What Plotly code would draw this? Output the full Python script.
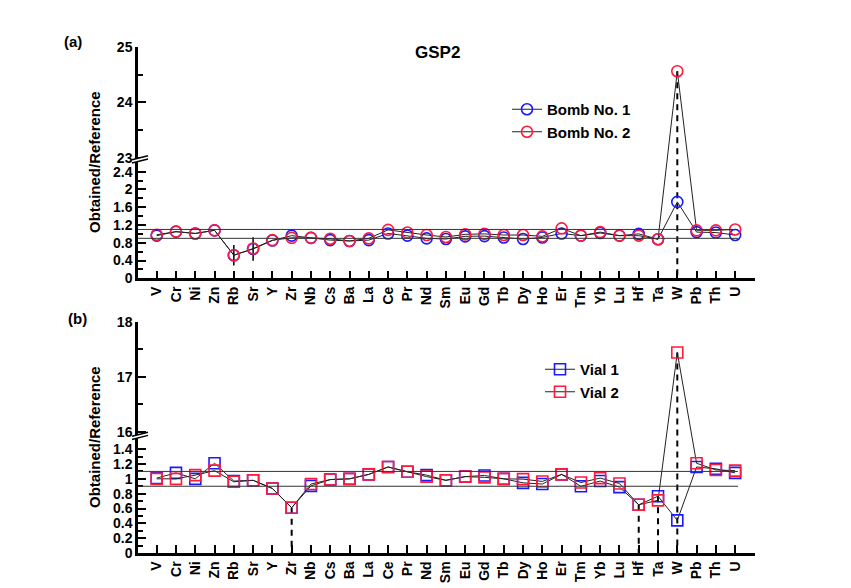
import plotly.graph_objects as go

# ---------------- data ----------------
elements = ["V", "Cr", "Ni", "Zn", "Rb", "Sr", "Y", "Zr", "Nb", "Cs", "Ba", "La", "Ce", "Pr",
            "Nd", "Sm", "Eu", "Gd", "Tb", "Dy", "Ho", "Er", "Tm", "Yb", "Lu", "Hf", "Ta", "W",
            "Pb", "Th", "U"]

bomb1 = [0.96, 1.05, 1.01, 1.08, 0.52, 0.66, 0.85, 0.96, 0.91, 0.86, 0.84, 0.86, 1.01, 0.96,
         0.90, 0.885, 0.945, 0.95, 0.92, 0.885, 0.92, 1.01, 0.96, 1.02, 0.96, 1.00, 0.88, 1.72,
         1.04, 1.03, 0.975]
bomb2 = [0.98, 1.05, 1.01, 1.08, 0.52, 0.67, 0.86, 0.91, 0.91, 0.89, 0.84, 0.90, 1.09, 1.03,
         0.975, 0.93, 0.99, 1.00, 0.975, 0.975, 0.945, 1.125, 0.96, 1.04, 0.96, 0.96, 0.88, 24.56,
         1.08, 1.08, 1.10]
bomb1_err = [0, 0, 0, 0, 0.23, 0.265, 0, 0, 0, 0, 0, 0, 0, 0, 0, 0, 0, 0, 0, 0, 0, 0, 0, 0, 0,
             0, 0, 0, 0, 0, 0]

vial1 = [1.01, 1.08, 1.00, 1.21, 0.97, 0.98, 0.87, 0.61, 0.905, 0.99, 1.00, 1.06, 1.16, 1.095,
         1.05, 0.98, 1.03, 1.045, 1.00, 0.946, 0.93, 1.06, 0.90, 0.97, 0.888, 0.65, 0.766, 0.44,
         1.16, 1.135, 1.08]
vial2 = [1.00, 1.00, 1.05, 1.11, 0.96, 0.98, 0.87, 0.61, 0.93, 0.99, 1.00, 1.06, 1.16, 1.095,
         1.03, 0.98, 1.03, 1.02, 1.00, 0.996, 0.965, 1.06, 0.95, 1.01, 0.937, 0.65, 0.71, 17.44,
         1.21, 1.12, 1.11]

drop_a = ["W"]
drop_b = ["Zr", "Hf", "Ta", "W"]
ref_lines = [0.9, 1.1]

# ---------------- broken-axis scales ----------------
# panel a: lower 0..2.6, upper 23..25
A = dict(low_top=2.6, up_bot=23.0, up_off=2.708, up_scale=1.2534, top=25.0)
# panel b: lower 0..1.5, upper 16..18
B = dict(low_top=1.5, up_bot=16.0, up_off=1.6336, up_scale=0.7425, top=18.0)


def tr(v, s):
    if v is None:
        return None
    if v <= s["low_top"]:
        return v
    return s["up_off"] + (v - s["up_bot"]) * s["up_scale"]


FONT = "Liberation Sans, Arial, sans-serif"
BLUE = "#1a1aff"
RED = "#ff1a3c"

# plot-area pixel frame
L, R, T, BOT = 138, 755, 46, 553
W_, H_ = R - L, BOT - T


def px(x):
    return (x - L) / W_


def py(y):
    return (BOT - y) / H_


fig = go.Figure()


def series(x, vals, s, name, color, symbol, xa, ya, legend, err=None):
    kw = {}
    if err is not None:
        kw["error_y"] = dict(type="data", array=err, visible=True, color="black",
                             thickness=1.5, width=0)
    fig.add_trace(go.Scatter(
        x=x, y=[tr(v, s) for v in vals], mode="lines+markers", name=name,
        line=dict(color="#222222", width=1),
        marker=dict(symbol=symbol, size=11, color=color, line=dict(width=1.6, color=color)),
        xaxis=xa, yaxis=ya, legend=legend, **kw))


def drops(names, v1, v2, s, xa, ya):
    xs, ys = [], []
    for n in names:
        i = elements.index(n)
        xs += [n, n, None]
        ys += [tr(max(v1[i], v2[i]), s), 0, None]
    fig.add_trace(go.Scatter(x=xs, y=ys, mode="lines", showlegend=False,
                             line=dict(color="black", width=2, dash="6px,5px"),
                             xaxis=xa, yaxis=ya, hoverinfo="skip"))


drops(drop_a, bomb1, bomb2, A, "x", "y")
drops(drop_b, vial1, vial2, B, "x2", "y2")

series(elements, bomb1, A, "Bomb No. 1", BLUE, "circle-open", "x", "y", "legend", bomb1_err)
series(elements, bomb2, A, "Bomb No. 2", RED, "circle-open", "x", "y", "legend")
series(elements, vial1, B, "Vial 1", BLUE, "square-open", "x2", "y2", "legend2")
series(elements, vial2, B, "Vial 2", RED, "square-open", "x2", "y2", "legend2")

shapes = []
for xr, yr in (("x", "y"), ("x2", "y2")):
    for r in ref_lines:
        shapes.append(dict(type="line", xref=xr, yref=yr, x0=-0.97, x1=30.15, y0=r, y1=r,
                           line=dict(color="#333333", width=1)))


def breakmark(s, yref, px_per_unit):
    c = (s["low_top"] + s["up_off"]) / 2.0
    d = 1.0 / px_per_unit
    x0, x1 = px(132), px(148)
    shapes.append(dict(type="path", xref="paper", yref=yref,
                       path=f"M {x0},{c - 2.6*d} L {x1},{c + 1.4*d} L {x1},{c + 4.6*d} "
                            f"L {x0},{c + 0.6*d} Z",
                       fillcolor="white", line=dict(width=0), layer="above"))
    shapes.append(dict(type="line", xref="paper", yref=yref, x0=x0, x1=x1,
                       y0=c - 2.6*d, y1=c + 1.4*d, line=dict(color="black", width=1.5)))
    shapes.append(dict(type="line", xref="paper", yref=yref, x0=x0, x1=x1,
                       y0=c + 0.6*d, y1=c + 4.6*d, line=dict(color="black", width=1.5)))


breakmark(A, "y", 44.42)
breakmark(B, "y2", 74.07)


def yticks(s, low_major, low_minor, up_major, up_minor, fmt):
    tv = [tr(v, s) for v in low_major] + [tr(v, s) for v in up_major]
    tt = [fmt(v) for v in low_major] + [fmt(v) for v in up_major]
    mv = [tr(v, s) for v in low_minor] + [tr(v, s) for v in up_minor]
    return tv, tt, mv


def f(v):
    return ("%g" % round(v, 2))


tva, tta, mva = yticks(A, [0, 0.4, 0.8, 1.2, 1.6, 2.0, 2.4], [0.2, 0.6, 1.0, 1.4, 1.8, 2.2],
                       [23, 24, 25], [23.5, 24.5], f)
tvb, ttb, mvb = yticks(B, [0, 0.2, 0.4, 0.6, 0.8, 1.0, 1.2, 1.4],
                       [0.1, 0.3, 0.5, 0.7, 0.9, 1.1, 1.3], [16, 17, 18], [16.5, 17.5], f)

tickfont = dict(family=FONT, size=14, color="black", weight="bold")

xcommon = dict(type="category", range=[-0.97, 31.03], showline=True, linecolor="black",
               linewidth=2.5, ticks="inside", ticklen=8, tickwidth=2, tickcolor="black",
               tickangle=-90, tickfont=tickfont, showgrid=False, zeroline=False,
               categoryorder="array", categoryarray=elements, automargin=False)
ycommon = dict(showline=True, linecolor="black", linewidth=2.5, ticks="inside", ticklen=8,
               tickwidth=2, tickcolor="black", tickfont=tickfont, showgrid=False,
               zeroline=False, tickmode="array", automargin=False)

ann_font = dict(family=FONT, size=15, weight="bold", color="black")

fig.update_layout(
    width=851, height=588,
    margin=dict(l=L, r=851 - R, t=T, b=588 - BOT),
    paper_bgcolor="white", plot_bgcolor="white",
    font=dict(family=FONT, color="black"),
    xaxis=dict(**xcommon, anchor="y"),
    xaxis2=dict(**xcommon, anchor="y2"),
    yaxis=dict(**ycommon, domain=[py(278.3), py(46.7)], range=[0, tr(A["top"], A)],
               tickvals=tva, ticktext=tta,
               minor=dict(tickmode="array", tickvals=mva, ticks="inside", ticklen=5,
                          tickwidth=2, tickcolor="black", showgrid=False)),
    yaxis2=dict(**ycommon, domain=[0, py(321.7)], range=[0, tr(B["top"], B)],
                tickvals=tvb, ticktext=ttb,
                minor=dict(tickmode="array", tickvals=mvb, ticks="inside", ticklen=5,
                           tickwidth=2, tickcolor="black", showgrid=False)),
    shapes=shapes,
    legend=dict(x=px(507), y=py(93), xanchor="left", yanchor="top", bgcolor="rgba(0,0,0,0)",
                font=dict(family=FONT, size=15, color="black", weight="bold"),
                tracegroupgap=0, itemwidth=30),
    legend2=dict(x=px(540), y=py(353), xanchor="left", yanchor="top",
                 bgcolor="rgba(0,0,0,0)",
                 font=dict(family=FONT, size=15, color="black", weight="bold"),
                 tracegroupgap=0, itemwidth=30),
    showlegend=True,
    annotations=[
        dict(text="GSP2", x=px(437), y=py(53), xref="paper", yref="paper",
             xanchor="center", yanchor="middle", showarrow=False,
             font=dict(family=FONT, size=17, weight="bold", color="black")),
        dict(text="(a)", x=px(73), y=py(42), xref="paper", yref="paper",
             xanchor="center", yanchor="middle", showarrow=False, font=ann_font),
        dict(text="(b)", x=px(77), y=py(318), xref="paper", yref="paper",
             xanchor="center", yanchor="middle", showarrow=False, font=ann_font),
        dict(text="Obtained/Reference", x=px(95), y=py(162), xref="paper", yref="paper",
             xanchor="center", yanchor="middle", showarrow=False, textangle=-90,
             font=ann_font),
        dict(text="Obtained/Reference", x=px(95), y=py(437), xref="paper", yref="paper",
             xanchor="center", yanchor="middle", showarrow=False, textangle=-90,
             font=ann_font),
    ],
)

fig.write_html("out.html", config={"displayModeBar": False},
               post_script="document.body.style.margin='0px';")
